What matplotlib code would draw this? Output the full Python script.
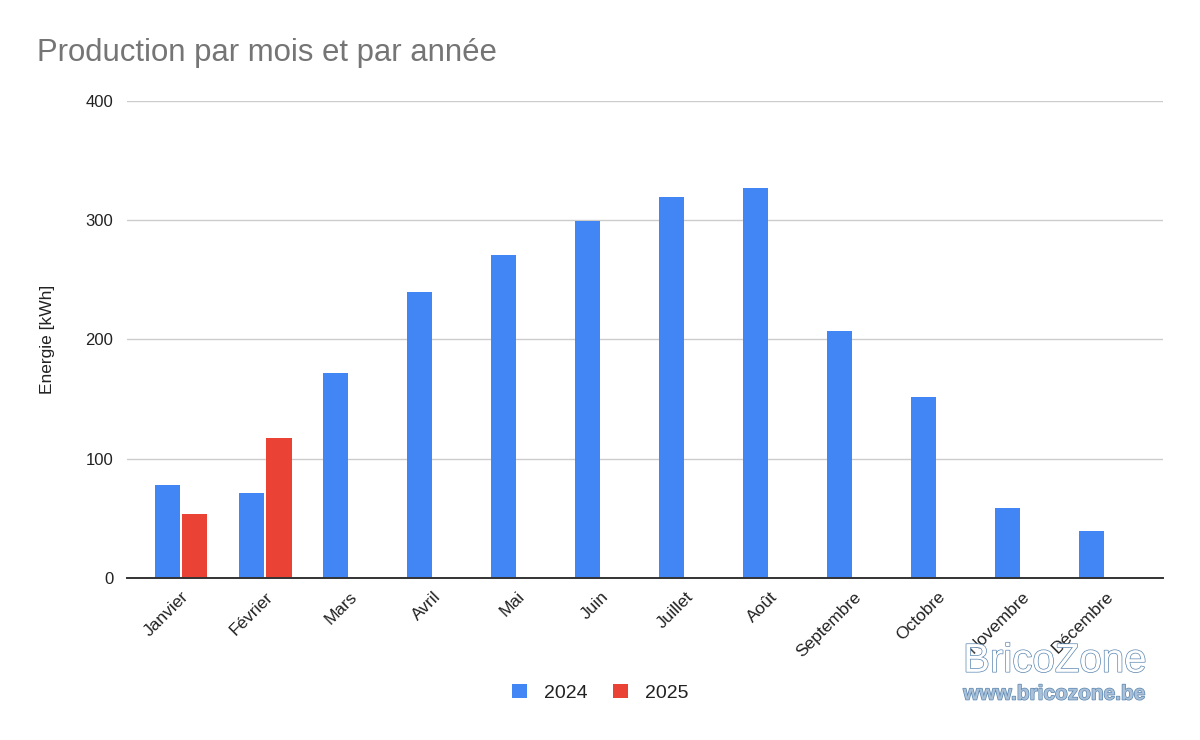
"""Monthly energy production bar chart, 2024 vs 2025."""

import matplotlib
matplotlib.use("Agg")
import matplotlib.pyplot as plt
import matplotlib.patheffects as pe
import numpy as np

plt.rcParams["font.family"] = ["Liberation Sans", "DejaVu Sans"]

months = ["Janvier", "Février", "Mars", "Avril", "Mai", "Juin", "Juillet",
          "Août", "Septembre", "Octobre", "Novembre", "Décembre"]
prod_2024 = [78, 71, 172, 240, 271, 299, 319, 327, 207, 152, 59, 39]
prod_2025 = [54, 117]
y_ticks = [0, 100, 200, 300, 400]

BLUE = "#4285f4"
RED = "#ea4335"

fig = plt.figure(figsize=(12, 7.4), dpi=100)
ax = fig.add_axes([0.106, 0.219, 0.863, 0.645])

x = np.arange(len(months))
w = 0.30
off = 0.165
ax.bar(x - off, prod_2024, width=w, color=BLUE, label="2024", zorder=3)
ax.bar(x[:len(prod_2025)] + off, prod_2025, width=w, color=RED, label="2025", zorder=3)

ax.set_xlim(-0.64, 11.68)
ax.set_ylim(0, 400)
ax.set_yticks(y_ticks)
ax.set_yticklabels([str(v) for v in y_ticks], fontsize=12, color="#222222")
ax.set_xticks(x)
ax.set_xticklabels(months, rotation=45, ha="right", rotation_mode="anchor",
                   fontsize=12.5, color="#222222")
ax.tick_params(length=0, pad=10)
ax.tick_params(axis="x", pad=8)

ax.grid(axis="y", color="#cccccc", linewidth=1, zorder=0)
ax.set_axisbelow(True)
for s in ["top", "right", "left"]:
    ax.spines[s].set_visible(False)
ax.spines["bottom"].set_color("#333333")
ax.spines["bottom"].set_linewidth(1.4)
ax.spines["bottom"].set_zorder(4)

ax.set_ylabel("Energie [kWh]", fontsize=12.5, color="#222222", labelpad=22)

fig.text(0.031, 0.929, "Production par mois et par année", fontsize=22.4,
         color="#757575", ha="left", va="center")

fig.legend(loc="center", bbox_to_anchor=(0.5, 0.064), ncol=2, frameon=False,
           fontsize=14, handlelength=0.8, handleheight=0.8,
           columnspacing=1.3, handletextpad=0.85, labelcolor="#222222")

# watermark
outline = [pe.withStroke(linewidth=1.0, foreground="#5a86b0")]
fig.text(0.879, 0.107, "BricoZone", fontsize=29, color="white",
         ha="center", va="center", path_effects=outline)
fig.text(0.879, 0.062, "www.bricozone.be", fontsize=15, fontweight="bold",
         color="#a9c0d8", ha="center", va="center", path_effects=outline)

fig.savefig("out.png", dpi=100)
plt.close(fig)
